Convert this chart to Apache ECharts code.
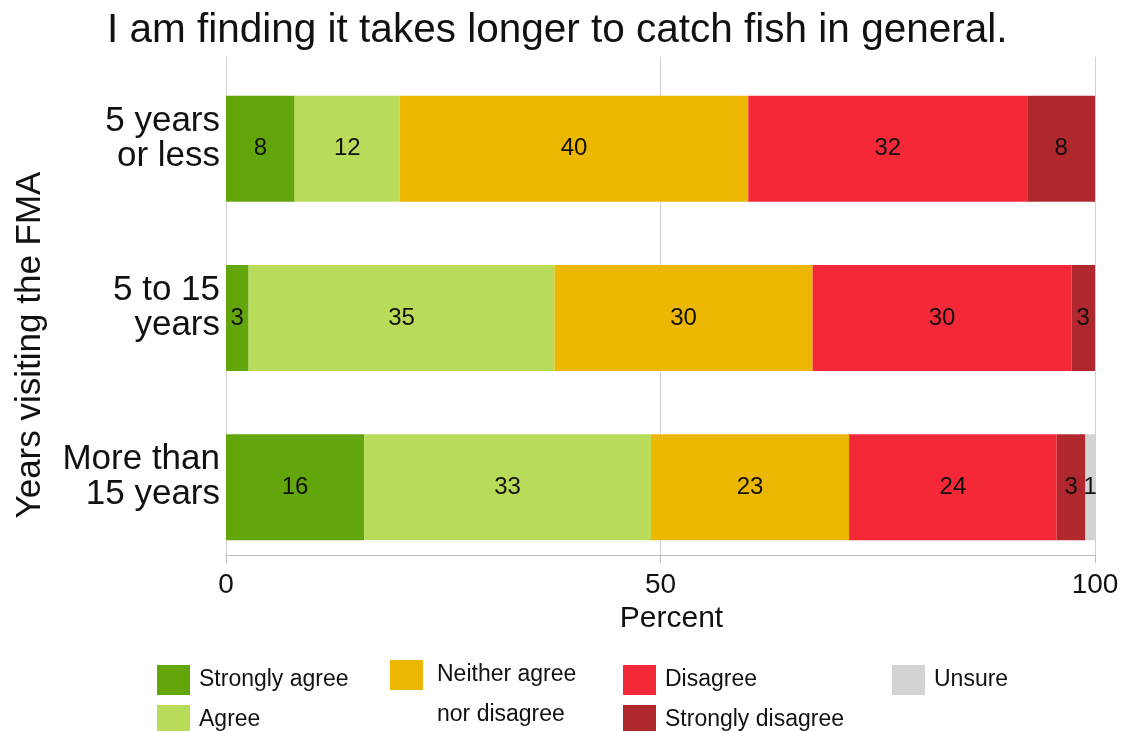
<!DOCTYPE html>
<html>
<head>
<meta charset="utf-8">
<script src="https://cdn.jsdelivr.net/npm/echarts@6/dist/echarts.min.js"></script>
<style>
html,body{margin:0;padding:0;background:#fff;}
#chart{width:1129px;height:731px;}
</style>
</head>
<body>
<div id="chart"></div>
<script>
const titleText = 'I am finding it takes longer to catch fish in general.';
const categories = ['5 years\nor less', '5 to 15\nyears', 'More than\n15 years'];
const seriesNames = ['Strongly agree', 'Agree', 'Neither agree nor disagree', 'Disagree', 'Strongly disagree', 'Unsure'];
const stronglyAgree    = [7.9, 2.6, 15.9];
const agree            = [12.1, 35.2, 33.0];
const neither          = [40.1, 29.7, 22.8];
const disagree         = [32.1, 29.8, 23.9];
const stronglyDisagree = [7.8, 2.7, 3.3];
const unsure           = [0, 0, 1.1];
const xTicks = [0, 50, 100];
const colors = ['#63a60c', '#b8dc5a', '#ebb700', '#f52837', '#b0272d', '#d3d3d5'];

const values = [stronglyAgree, agree, neither, disagree, stronglyDisagree, unsure];
const FONT = "'Liberation Sans', Arial, sans-serif";

const chart = echarts.init(document.getElementById('chart'));

const series = seriesNames.map((name, i) => ({
  name: name,
  type: 'bar',
  stack: 'total',
  xAxisIndex: 0,
  yAxisIndex: 0,
  barWidth: 106,
  data: values[i],
  itemStyle: { color: colors[i] },
  label: {
    show: true,
    position: 'inside',
    fontFamily: FONT,
    fontSize: 24,
    color: '#111',
    padding: [4, 0, 0, 0],
    formatter: p => (p.value > 0 ? String(Math.round(p.value)) : '')
  },
  emphasis: { disabled: true }
}));

const legendPos = [
  { left: 157, top: 660 },
  { left: 157, top: 700 },
  { left: 390, top: 615 },
  { left: 623, top: 660 },
  { left: 623, top: 700 },
  { left: 892, top: 660 }
];

const legends = seriesNames.map((name, i) => {
  const isNeither = i === 2;
  return {
    data: [name],
    left: legendPos[i].left,
    top: legendPos[i].top,
    itemWidth: 33,
    itemHeight: 30,
    icon: 'rect',
    selectedMode: false,
    padding: 0,
    formatter: isNeither ? () => '\nNeither agree\nnor disagree' : undefined,
    textStyle: {
      fontFamily: FONT,
      fontSize: 23,
      color: '#111',
      lineHeight: 40,
      padding: isNeither ? [0, 0, 0, 9] : [0, 0, 0, 4]
    }
  };
});

chart.setOption({
  animation: false,
  title: {
    text: titleText,
    left: 102,
    top: 5,
    textStyle: { fontFamily: FONT, fontSize: 40.5, fontWeight: 'normal', color: '#111' }
  },
  legend: legends,
  grid: [
    { left: 226, right: 34, top: 64, height: 508 },
    { left: 226, right: 34, top: 57, height: 498 }
  ],
  xAxis: [
    { gridIndex: 0, type: 'value', min: 0, max: 100, show: false },
    {
      gridIndex: 1, type: 'value', min: xTicks[0], max: xTicks[xTicks.length - 1], interval: 50,
      axisLine: { show: true, lineStyle: { color: '#bdbdbd', width: 1 } },
      axisTick: { show: true, length: 8, lineStyle: { color: '#bdbdbd' } },
      axisLabel: { fontFamily: FONT, fontSize: 28, color: '#111', margin: 16 },
      splitLine: { show: true, lineStyle: { color: '#d2d2d2', width: 1 } },
      name: 'Percent',
      nameLocation: 'middle',
      nameGap: 47,
      nameTextStyle: { fontFamily: FONT, fontSize: 30, color: '#111', padding: [0, 0, 0, 22] }
    }
  ],
  yAxis: [
    {
      gridIndex: 0, type: 'category', data: categories, inverse: true,
      axisLine: { show: false }, axisTick: { show: false }, splitLine: { show: false },
      axisLabel: {
        fontFamily: FONT, fontSize: 35, lineHeight: 35, color: '#111', margin: 6,
        formatter: v => v + '\n{gap|}',
        rich: { gap: { lineHeight: 20, fontSize: 10 } }
      }
    },
    { gridIndex: 1, type: 'value', min: 0, max: 1, show: false }
  ],
  graphic: [{
    type: 'text',
    x: 30,
    y: 345,
    rotation: Math.PI / 2,
    style: {
      text: 'Years visiting the FMA',
      font: "35px 'Liberation Sans', Arial, sans-serif",
      fill: '#111',
      align: 'center',
      verticalAlign: 'middle'
    }
  }],
  series: series
});
</script>
</body>
</html>
